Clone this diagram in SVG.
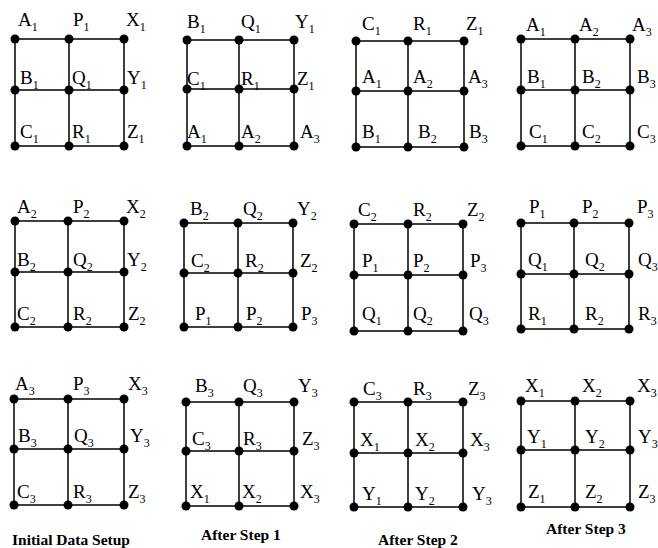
<svg xmlns="http://www.w3.org/2000/svg" width="658" height="548" viewBox="0 0 658 548">
<style>
.ln{stroke:#000;stroke-width:1.5;fill:none}
.dot{fill:#000}
.lb{font-family:"Liberation Serif","Times New Roman",serif;font-size:19px;fill:#000}
.sb{font-size:12px}
.cap{font-family:"Liberation Serif","Times New Roman",serif;font-size:15.5px;font-weight:bold;fill:#000}
</style>
<rect width="658" height="548" fill="#fff"/>
<g id="connectors">
<path class="ln" d="M15 39H124M15 90H124M15 146H124M15 39V146M69 39V146M124 39V146"/>
<path class="ln" d="M187 40H294M187 89H294M187 146H294M187 40V146M239 40V146M294 40V146"/>
<path class="ln" d="M356 41H464M356 91H464M356 147H464M356 41V147M408 41V147M464 41V147"/>
<path class="ln" d="M521 39H630M521 90H630M521 146H630M521 39V146M575 39V146M630 39V146"/>
<path class="ln" d="M15 221H124M15 272H124M15 327H124M15 221V327M68 221V327M124 221V327"/>
<path class="ln" d="M184 223H293M184 273H293M184 327H293M184 223V327M238 223V327M293 223V327"/>
<path class="ln" d="M354 224H463M354 275H463M354 331H463M354 224V331M408 224V331M463 224V331"/>
<path class="ln" d="M521 223H629M521 274H629M521 329H629M521 223V329M574 223V329M629 223V329"/>
<path class="ln" d="M14 399H124M14 449H124M14 505H124M14 399V505M68 399V505M124 399V505"/>
<path class="ln" d="M186 402H294M186 451H294M186 506H294M186 402V506M239 402V506M294 402V506"/>
<path class="ln" d="M354 402H463M354 453H463M354 507H463M354 402V507M408 402V507M463 402V507"/>
<path class="ln" d="M521 401H630M521 450H630M521 507H630M521 401V507M575 401V507M630 401V507"/>
</g>

<g id="panel-r1c1">
<g id="r1c1-A1"><circle class="dot" cx="15" cy="39" r="4.5"/><text class="lb" x="18" y="26">A<tspan class="sb" dy="5">1</tspan></text></g>
<g id="r1c1-P1"><circle class="dot" cx="69" cy="39" r="4.5"/><text class="lb" x="73" y="26">P<tspan class="sb" dy="5">1</tspan></text></g>
<g id="r1c1-X1"><circle class="dot" cx="124" cy="39" r="4.5"/><text class="lb" x="126" y="26">X<tspan class="sb" dy="5">1</tspan></text></g>
<g id="r1c1-B1"><circle class="dot" cx="15" cy="90" r="4.5"/><text class="lb" x="20" y="84">B<tspan class="sb" dy="5">1</tspan></text></g>
<g id="r1c1-Q1"><circle class="dot" cx="69" cy="90" r="4.5"/><text class="lb" x="72" y="84">Q<tspan class="sb" dy="5">1</tspan></text></g>
<g id="r1c1-Y1"><circle class="dot" cx="124" cy="90" r="4.5"/><text class="lb" x="127" y="84">Y<tspan class="sb" dy="5">1</tspan></text></g>
<g id="r1c1-C1"><circle class="dot" cx="15" cy="146" r="4.5"/><text class="lb" x="20" y="138">C<tspan class="sb" dy="5">1</tspan></text></g>
<g id="r1c1-R1"><circle class="dot" cx="69" cy="146" r="4.5"/><text class="lb" x="72" y="138">R<tspan class="sb" dy="5">1</tspan></text></g>
<g id="r1c1-Z1"><circle class="dot" cx="124" cy="146" r="4.5"/><text class="lb" x="127" y="138">Z<tspan class="sb" dy="5">1</tspan></text></g>
</g>

<g id="panel-r1c2">
<g id="r1c2-B1"><circle class="dot" cx="187" cy="40" r="4.5"/><text class="lb" x="187" y="28">B<tspan class="sb" dy="5">1</tspan></text></g>
<g id="r1c2-Q1"><circle class="dot" cx="239" cy="40" r="4.5"/><text class="lb" x="241" y="28">Q<tspan class="sb" dy="5">1</tspan></text></g>
<g id="r1c2-Y1"><circle class="dot" cx="294" cy="40" r="4.5"/><text class="lb" x="295" y="28">Y<tspan class="sb" dy="5">1</tspan></text></g>
<g id="r1c2-C1"><circle class="dot" cx="187" cy="89" r="4.5"/><text class="lb" x="187" y="85">C<tspan class="sb" dy="5">1</tspan></text></g>
<g id="r1c2-R1"><circle class="dot" cx="239" cy="89" r="4.5"/><text class="lb" x="241" y="85">R<tspan class="sb" dy="5">1</tspan></text></g>
<g id="r1c2-Z1"><circle class="dot" cx="294" cy="89" r="4.5"/><text class="lb" x="297" y="85">Z<tspan class="sb" dy="5">1</tspan></text></g>
<g id="r1c2-A1"><circle class="dot" cx="187" cy="146" r="4.5"/><text class="lb" x="187" y="138">A<tspan class="sb" dy="5">1</tspan></text></g>
<g id="r1c2-A2"><circle class="dot" cx="239" cy="146" r="4.5"/><text class="lb" x="241" y="138">A<tspan class="sb" dy="5">2</tspan></text></g>
<g id="r1c2-A3"><circle class="dot" cx="294" cy="146" r="4.5"/><text class="lb" x="300" y="138">A<tspan class="sb" dy="5">3</tspan></text></g>
</g>

<g id="panel-r1c3">
<g id="r1c3-C1"><circle class="dot" cx="356" cy="41" r="4.5"/><text class="lb" x="362" y="30">C<tspan class="sb" dy="5">1</tspan></text></g>
<g id="r1c3-R1"><circle class="dot" cx="408" cy="41" r="4.5"/><text class="lb" x="413" y="30">R<tspan class="sb" dy="5">1</tspan></text></g>
<g id="r1c3-Z1"><circle class="dot" cx="464" cy="41" r="4.5"/><text class="lb" x="466" y="30">Z<tspan class="sb" dy="5">1</tspan></text></g>
<g id="r1c3-A1"><circle class="dot" cx="356" cy="91" r="4.5"/><text class="lb" x="362" y="83">A<tspan class="sb" dy="5">1</tspan></text></g>
<g id="r1c3-A2"><circle class="dot" cx="408" cy="91" r="4.5"/><text class="lb" x="413" y="83">A<tspan class="sb" dy="5">2</tspan></text></g>
<g id="r1c3-A3"><circle class="dot" cx="464" cy="91" r="4.5"/><text class="lb" x="468" y="83">A<tspan class="sb" dy="5">3</tspan></text></g>
<g id="r1c3-B1"><circle class="dot" cx="356" cy="147" r="4.5"/><text class="lb" x="362" y="138">B<tspan class="sb" dy="5">1</tspan></text></g>
<g id="r1c3-B2"><circle class="dot" cx="408" cy="147" r="4.5"/><text class="lb" x="418" y="138">B<tspan class="sb" dy="5">2</tspan></text></g>
<g id="r1c3-B3"><circle class="dot" cx="464" cy="147" r="4.5"/><text class="lb" x="469" y="138">B<tspan class="sb" dy="5">3</tspan></text></g>
</g>

<g id="panel-r1c4">
<g id="r1c4-A1"><circle class="dot" cx="521" cy="39" r="4.5"/><text class="lb" x="526" y="31">A<tspan class="sb" dy="5">1</tspan></text></g>
<g id="r1c4-A2"><circle class="dot" cx="575" cy="39" r="4.5"/><text class="lb" x="579" y="31">A<tspan class="sb" dy="5">2</tspan></text></g>
<g id="r1c4-A3"><circle class="dot" cx="630" cy="39" r="4.5"/><text class="lb" x="632" y="31">A<tspan class="sb" dy="5">3</tspan></text></g>
<g id="r1c4-B1"><circle class="dot" cx="521" cy="90" r="4.5"/><text class="lb" x="527" y="83">B<tspan class="sb" dy="5">1</tspan></text></g>
<g id="r1c4-B2"><circle class="dot" cx="575" cy="90" r="4.5"/><text class="lb" x="582" y="83">B<tspan class="sb" dy="5">2</tspan></text></g>
<g id="r1c4-B3"><circle class="dot" cx="630" cy="90" r="4.5"/><text class="lb" x="637" y="83">B<tspan class="sb" dy="5">3</tspan></text></g>
<g id="r1c4-C1"><circle class="dot" cx="521" cy="146" r="4.5"/><text class="lb" x="529" y="138">C<tspan class="sb" dy="5">1</tspan></text></g>
<g id="r1c4-C2"><circle class="dot" cx="575" cy="146" r="4.5"/><text class="lb" x="582" y="138">C<tspan class="sb" dy="5">2</tspan></text></g>
<g id="r1c4-C3"><circle class="dot" cx="630" cy="146" r="4.5"/><text class="lb" x="637" y="138">C<tspan class="sb" dy="5">3</tspan></text></g>
</g>

<g id="panel-r2c1">
<g id="r2c1-A2"><circle class="dot" cx="15" cy="221" r="4.5"/><text class="lb" x="17" y="213">A<tspan class="sb" dy="5">2</tspan></text></g>
<g id="r2c1-P2"><circle class="dot" cx="68" cy="221" r="4.5"/><text class="lb" x="73" y="213">P<tspan class="sb" dy="5">2</tspan></text></g>
<g id="r2c1-X2"><circle class="dot" cx="124" cy="221" r="4.5"/><text class="lb" x="126" y="213">X<tspan class="sb" dy="5">2</tspan></text></g>
<g id="r2c1-B2"><circle class="dot" cx="15" cy="272" r="4.5"/><text class="lb" x="17" y="266">B<tspan class="sb" dy="5">2</tspan></text></g>
<g id="r2c1-Q2"><circle class="dot" cx="68" cy="272" r="4.5"/><text class="lb" x="73" y="266">Q<tspan class="sb" dy="5">2</tspan></text></g>
<g id="r2c1-Y2"><circle class="dot" cx="124" cy="272" r="4.5"/><text class="lb" x="127" y="266">Y<tspan class="sb" dy="5">2</tspan></text></g>
<g id="r2c1-C2"><circle class="dot" cx="15" cy="327" r="4.5"/><text class="lb" x="17" y="320">C<tspan class="sb" dy="5">2</tspan></text></g>
<g id="r2c1-R2"><circle class="dot" cx="68" cy="327" r="4.5"/><text class="lb" x="73" y="320">R<tspan class="sb" dy="5">2</tspan></text></g>
<g id="r2c1-Z2"><circle class="dot" cx="124" cy="327" r="4.5"/><text class="lb" x="128" y="320">Z<tspan class="sb" dy="5">2</tspan></text></g>
</g>

<g id="panel-r2c2">
<g id="r2c2-B2"><circle class="dot" cx="184" cy="223" r="4.5"/><text class="lb" x="190" y="215">B<tspan class="sb" dy="5">2</tspan></text></g>
<g id="r2c2-Q2"><circle class="dot" cx="238" cy="223" r="4.5"/><text class="lb" x="243" y="215">Q<tspan class="sb" dy="5">2</tspan></text></g>
<g id="r2c2-Y2"><circle class="dot" cx="293" cy="223" r="4.5"/><text class="lb" x="297" y="215">Y<tspan class="sb" dy="5">2</tspan></text></g>
<g id="r2c2-C2"><circle class="dot" cx="184" cy="273" r="4.5"/><text class="lb" x="191" y="267">C<tspan class="sb" dy="5">2</tspan></text></g>
<g id="r2c2-R2"><circle class="dot" cx="238" cy="273" r="4.5"/><text class="lb" x="245" y="267">R<tspan class="sb" dy="5">2</tspan></text></g>
<g id="r2c2-Z2"><circle class="dot" cx="293" cy="273" r="4.5"/><text class="lb" x="300" y="267">Z<tspan class="sb" dy="5">2</tspan></text></g>
<g id="r2c2-P1"><circle class="dot" cx="184" cy="327" r="4.5"/><text class="lb" x="195" y="320">P<tspan class="sb" dy="5">1</tspan></text></g>
<g id="r2c2-P2"><circle class="dot" cx="238" cy="327" r="4.5"/><text class="lb" x="246" y="320">P<tspan class="sb" dy="5">2</tspan></text></g>
<g id="r2c2-P3"><circle class="dot" cx="293" cy="327" r="4.5"/><text class="lb" x="301" y="320">P<tspan class="sb" dy="5">3</tspan></text></g>
</g>

<g id="panel-r2c3">
<g id="r2c3-C2"><circle class="dot" cx="354" cy="224" r="4.5"/><text class="lb" x="358" y="216">C<tspan class="sb" dy="5">2</tspan></text></g>
<g id="r2c3-R2"><circle class="dot" cx="408" cy="224" r="4.5"/><text class="lb" x="413" y="216">R<tspan class="sb" dy="5">2</tspan></text></g>
<g id="r2c3-Z2"><circle class="dot" cx="463" cy="224" r="4.5"/><text class="lb" x="467" y="216">Z<tspan class="sb" dy="5">2</tspan></text></g>
<g id="r2c3-P1"><circle class="dot" cx="354" cy="275" r="4.5"/><text class="lb" x="362" y="267">P<tspan class="sb" dy="5">1</tspan></text></g>
<g id="r2c3-P2"><circle class="dot" cx="408" cy="275" r="4.5"/><text class="lb" x="413" y="267">P<tspan class="sb" dy="5">2</tspan></text></g>
<g id="r2c3-P3"><circle class="dot" cx="463" cy="275" r="4.5"/><text class="lb" x="470" y="267">P<tspan class="sb" dy="5">3</tspan></text></g>
<g id="r2c3-Q1"><circle class="dot" cx="354" cy="331" r="4.5"/><text class="lb" x="362" y="320">Q<tspan class="sb" dy="5">1</tspan></text></g>
<g id="r2c3-Q2"><circle class="dot" cx="408" cy="331" r="4.5"/><text class="lb" x="413" y="320">Q<tspan class="sb" dy="5">2</tspan></text></g>
<g id="r2c3-Q3"><circle class="dot" cx="463" cy="331" r="4.5"/><text class="lb" x="469" y="320">Q<tspan class="sb" dy="5">3</tspan></text></g>
</g>

<g id="panel-r2c4">
<g id="r2c4-P1"><circle class="dot" cx="521" cy="223" r="4.5"/><text class="lb" x="529" y="213">P<tspan class="sb" dy="5">1</tspan></text></g>
<g id="r2c4-P2"><circle class="dot" cx="574" cy="223" r="4.5"/><text class="lb" x="582" y="213">P<tspan class="sb" dy="5">2</tspan></text></g>
<g id="r2c4-P3"><circle class="dot" cx="629" cy="223" r="4.5"/><text class="lb" x="637" y="213">P<tspan class="sb" dy="5">3</tspan></text></g>
<g id="r2c4-Q1"><circle class="dot" cx="521" cy="274" r="4.5"/><text class="lb" x="528" y="266">Q<tspan class="sb" dy="5">1</tspan></text></g>
<g id="r2c4-Q2"><circle class="dot" cx="574" cy="274" r="4.5"/><text class="lb" x="585" y="266">Q<tspan class="sb" dy="5">2</tspan></text></g>
<g id="r2c4-Q3"><circle class="dot" cx="629" cy="274" r="4.5"/><text class="lb" x="638" y="266">Q<tspan class="sb" dy="5">3</tspan></text></g>
<g id="r2c4-R1"><circle class="dot" cx="521" cy="329" r="4.5"/><text class="lb" x="528" y="320">R<tspan class="sb" dy="5">1</tspan></text></g>
<g id="r2c4-R2"><circle class="dot" cx="574" cy="329" r="4.5"/><text class="lb" x="585" y="320">R<tspan class="sb" dy="5">2</tspan></text></g>
<g id="r2c4-R3"><circle class="dot" cx="629" cy="329" r="4.5"/><text class="lb" x="638" y="320">R<tspan class="sb" dy="5">3</tspan></text></g>
</g>

<g id="panel-r3c1">
<g id="r3c1-A3"><circle class="dot" cx="14" cy="399" r="4.5"/><text class="lb" x="15" y="390">A<tspan class="sb" dy="5">3</tspan></text></g>
<g id="r3c1-P3"><circle class="dot" cx="68" cy="399" r="4.5"/><text class="lb" x="73" y="390">P<tspan class="sb" dy="5">3</tspan></text></g>
<g id="r3c1-X3"><circle class="dot" cx="124" cy="399" r="4.5"/><text class="lb" x="128" y="390">X<tspan class="sb" dy="5">3</tspan></text></g>
<g id="r3c1-B3"><circle class="dot" cx="14" cy="449" r="4.5"/><text class="lb" x="18" y="442">B<tspan class="sb" dy="5">3</tspan></text></g>
<g id="r3c1-Q3"><circle class="dot" cx="68" cy="449" r="4.5"/><text class="lb" x="74" y="442">Q<tspan class="sb" dy="5">3</tspan></text></g>
<g id="r3c1-Y3"><circle class="dot" cx="124" cy="449" r="4.5"/><text class="lb" x="130" y="442">Y<tspan class="sb" dy="5">3</tspan></text></g>
<g id="r3c1-C3"><circle class="dot" cx="14" cy="505" r="4.5"/><text class="lb" x="17" y="498">C<tspan class="sb" dy="5">3</tspan></text></g>
<g id="r3c1-R3"><circle class="dot" cx="68" cy="505" r="4.5"/><text class="lb" x="73" y="498">R<tspan class="sb" dy="5">3</tspan></text></g>
<g id="r3c1-Z3"><circle class="dot" cx="124" cy="505" r="4.5"/><text class="lb" x="128" y="498">Z<tspan class="sb" dy="5">3</tspan></text></g>
</g>

<g id="panel-r3c2">
<g id="r3c2-B3"><circle class="dot" cx="186" cy="402" r="4.5"/><text class="lb" x="195" y="392">B<tspan class="sb" dy="5">3</tspan></text></g>
<g id="r3c2-Q3"><circle class="dot" cx="239" cy="402" r="4.5"/><text class="lb" x="243" y="392">Q<tspan class="sb" dy="5">3</tspan></text></g>
<g id="r3c2-Y3"><circle class="dot" cx="294" cy="402" r="4.5"/><text class="lb" x="298" y="392">Y<tspan class="sb" dy="5">3</tspan></text></g>
<g id="r3c2-C3"><circle class="dot" cx="186" cy="451" r="4.5"/><text class="lb" x="192" y="445">C<tspan class="sb" dy="5">3</tspan></text></g>
<g id="r3c2-R3"><circle class="dot" cx="239" cy="451" r="4.5"/><text class="lb" x="243" y="445">R<tspan class="sb" dy="5">3</tspan></text></g>
<g id="r3c2-Z3"><circle class="dot" cx="294" cy="451" r="4.5"/><text class="lb" x="302" y="445">Z<tspan class="sb" dy="5">3</tspan></text></g>
<g id="r3c2-X1"><circle class="dot" cx="186" cy="506" r="4.5"/><text class="lb" x="190" y="498">X<tspan class="sb" dy="5">1</tspan></text></g>
<g id="r3c2-X2"><circle class="dot" cx="239" cy="506" r="4.5"/><text class="lb" x="242" y="498">X<tspan class="sb" dy="5">2</tspan></text></g>
<g id="r3c2-X3"><circle class="dot" cx="294" cy="506" r="4.5"/><text class="lb" x="300" y="498">X<tspan class="sb" dy="5">3</tspan></text></g>
</g>

<g id="panel-r3c3">
<g id="r3c3-C3"><circle class="dot" cx="354" cy="402" r="4.5"/><text class="lb" x="363" y="395">C<tspan class="sb" dy="5">3</tspan></text></g>
<g id="r3c3-R3"><circle class="dot" cx="408" cy="402" r="4.5"/><text class="lb" x="413" y="395">R<tspan class="sb" dy="5">3</tspan></text></g>
<g id="r3c3-Z3"><circle class="dot" cx="463" cy="402" r="4.5"/><text class="lb" x="468" y="395">Z<tspan class="sb" dy="5">3</tspan></text></g>
<g id="r3c3-X1"><circle class="dot" cx="354" cy="453" r="4.5"/><text class="lb" x="360" y="446">X<tspan class="sb" dy="5">1</tspan></text></g>
<g id="r3c3-X2"><circle class="dot" cx="408" cy="453" r="4.5"/><text class="lb" x="415" y="446">X<tspan class="sb" dy="5">2</tspan></text></g>
<g id="r3c3-X3"><circle class="dot" cx="463" cy="453" r="4.5"/><text class="lb" x="470" y="446">X<tspan class="sb" dy="5">3</tspan></text></g>
<g id="r3c3-Y1"><circle class="dot" cx="354" cy="507" r="4.5"/><text class="lb" x="362" y="500">Y<tspan class="sb" dy="5">1</tspan></text></g>
<g id="r3c3-Y2"><circle class="dot" cx="408" cy="507" r="4.5"/><text class="lb" x="415" y="500">Y<tspan class="sb" dy="5">2</tspan></text></g>
<g id="r3c3-Y3"><circle class="dot" cx="463" cy="507" r="4.5"/><text class="lb" x="472" y="500">Y<tspan class="sb" dy="5">3</tspan></text></g>
</g>

<g id="panel-r3c4">
<g id="r3c4-X1"><circle class="dot" cx="521" cy="401" r="4.5"/><text class="lb" x="525" y="392">X<tspan class="sb" dy="5">1</tspan></text></g>
<g id="r3c4-X2"><circle class="dot" cx="575" cy="401" r="4.5"/><text class="lb" x="582" y="392">X<tspan class="sb" dy="5">2</tspan></text></g>
<g id="r3c4-X3"><circle class="dot" cx="630" cy="401" r="4.5"/><text class="lb" x="637" y="392">X<tspan class="sb" dy="5">3</tspan></text></g>
<g id="r3c4-Y1"><circle class="dot" cx="521" cy="450" r="4.5"/><text class="lb" x="527" y="443">Y<tspan class="sb" dy="5">1</tspan></text></g>
<g id="r3c4-Y2"><circle class="dot" cx="575" cy="450" r="4.5"/><text class="lb" x="585" y="443">Y<tspan class="sb" dy="5">2</tspan></text></g>
<g id="r3c4-Y3"><circle class="dot" cx="630" cy="450" r="4.5"/><text class="lb" x="638" y="443">Y<tspan class="sb" dy="5">3</tspan></text></g>
<g id="r3c4-Z1"><circle class="dot" cx="521" cy="507" r="4.5"/><text class="lb" x="528" y="498">Z<tspan class="sb" dy="5">1</tspan></text></g>
<g id="r3c4-Z2"><circle class="dot" cx="575" cy="507" r="4.5"/><text class="lb" x="585" y="498">Z<tspan class="sb" dy="5">2</tspan></text></g>
<g id="r3c4-Z3"><circle class="dot" cx="630" cy="507" r="4.5"/><text class="lb" x="638" y="498">Z<tspan class="sb" dy="5">3</tspan></text></g>
</g>

<g id="captions">
<text class="cap" x="12" y="545">Initial Data Setup</text>
<text class="cap" x="201" y="540">After Step 1</text>
<text class="cap" x="378" y="545">After Step 2</text>
<text class="cap" x="546" y="534">After Step 3</text>
</g>
</svg>
